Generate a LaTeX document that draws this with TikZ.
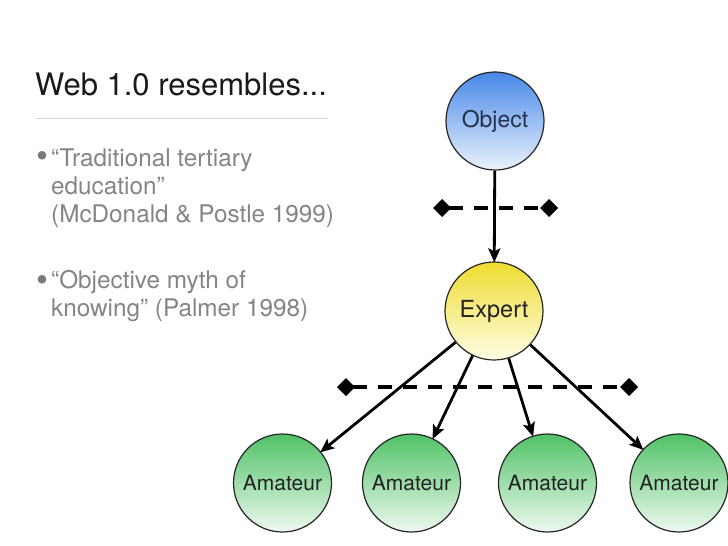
\documentclass[tikz,border=0pt]{standalone}
\usepackage{fontspec}
\setmainfont{TeX Gyre Heros}
\usetikzlibrary{arrows.meta}
\definecolor{titlecol}{HTML}{1A1A1A}
\definecolor{bulletcol}{HTML}{858585}
\definecolor{dotcol}{HTML}{7A7A7A}
\definecolor{rulecol}{HTML}{D6D6D6}
\definecolor{blueTop}{HTML}{4888E8}
\definecolor{blueBot}{HTML}{EAF3FD}
\definecolor{yelTop}{HTML}{EEDC2E}
\definecolor{yelBot}{HTML}{FFFDE6}
\definecolor{grnTop}{HTML}{50C266}
\definecolor{grnBot}{HTML}{EEF9F0}
\definecolor{nodetext}{HTML}{222222}
\definecolor{objtext}{HTML}{26324A}
\tikzset{
  ball/.style={circle, draw=black!85, line width=1.2pt, minimum size=98pt, inner sep=0pt,
    text=nodetext},
  objball/.style={ball, top color=blueTop, bottom color=blueBot, text=objtext, font=\fontsize{23}{26}\selectfont},
  expball/.style={ball, top color=yelTop, bottom color=yelBot, font=\fontsize{23.5}{26}\selectfont},
  amball/.style={ball, top color=grnTop, bottom color=grnBot, font=\fontsize{21}{24}\selectfont},
  flow/.style={line width=2.8pt, -{Stealth[length=14pt,width=12pt,inset=3pt]}, shorten >=-1pt},
  divider/.style={line width=3.4pt, dash pattern=on 14pt off 11pt,
    {Diamond[length=18pt,width=18pt]}-{Diamond[length=18pt,width=18pt]}},
  titletext/.style={anchor=base west, inner sep=0pt, text=titlecol, font=\fontsize{31}{34}\selectfont},
  bullettext/.style={anchor=base west, inner sep=0pt, text=bulletcol,
    font=\fontsize{24.3}{27.5}\selectfont},
  bulletdot/.style={anchor=base west, inner sep=0pt, text=dotcol, font=\fontsize{34}{36}\selectfont},
}
\begin{document}
\begin{tikzpicture}[x=1pt,y=-1pt]
\useasboundingbox[fill=white] (0,0) rectangle (728,546);
% left text
\node[titletext] (title) at (35,95) {Web 1.0 resembles...};
\coordinate (ruleL) at (35,118);
\coordinate (ruleR) at (328,118);
\draw[rulecol, line width=1pt] (ruleL) -- (ruleR);
\node[bulletdot] (b1) at (36,167) {•};
\node[bullettext] (t1a) at (51,166) {“Traditional tertiary};
\node[bullettext] (t1b) at (51,194) {education”};
\node[bullettext] (t1c) at (51,222) {(McDonald \& Postle 1999)};
\node[bulletdot] (b2) at (36,291) {•};
\node[bullettext] (t2a) at (51,288) {“Objective myth of};
\node[bullettext] (t2b) at (51,316) {knowing” (Palmer 1998)};
% diagram
\node[objball] (obj) at (495,121) {Object};
\node[expball] (exp) at (494,311) {Expert};
\node[amball] (a1) at (282.5,483) {Amateur};
\node[amball] (a2) at (411.5,483) {Amateur};
\node[amball] (a3) at (547.5,483) {Amateur};
\node[amball] (a4) at (679,483) {Amateur};
\draw[flow] (obj) -- (exp);
\draw[flow] (exp) -- (a1);
\draw[flow] (exp) -- (a2);
\draw[flow] (exp) -- (a3);
\draw[flow] (exp) -- (a4);
\coordinate (d1L) at (433,208);
\coordinate (d1R) at (558,208);
\draw[divider] (d1L) -- (d1R);
\coordinate (d2L) at (337,387);
\coordinate (d2R) at (638,387);
\draw[divider] (d2L) -- (d2R);
\end{tikzpicture}
\end{document}
